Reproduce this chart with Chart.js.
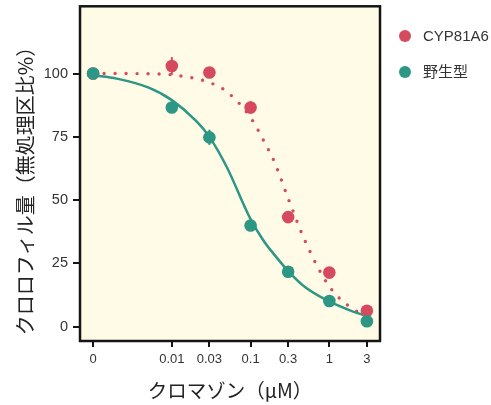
<!DOCTYPE html>
<html>
<head>
<meta charset="utf-8">
<script src="https://cdn.jsdelivr.net/npm/chart.js@4"></script>
<style>
  html, body { margin: 0; padding: 0; background: #ffffff; }
  #wrap { width: 491px; height: 405px; }
</style>
</head>
<body>
<div id="wrap"><canvas id="doseChart" width="491" height="405"></canvas></div>
<script>
// doses in uM; the untreated control ("0") sits at the 0.001 position on the log axis
const doses = [0.001, 0.01, 0.03, 0.1, 0.3, 1, 3];
const doseLabels = ["0", "0.01", "0.03", "0.1", "0.3", "1", "3"];
const yTicks = [0, 25, 50, 75, 100];

const mutantName = "CYP81A6";
const mutantValues = [100, 103, 100.4, 86.6, 43.3, 21.4, 6.3];
const mutantErr = [0.5, 3.5, 1.5, 2.5, 1, 1, 1];

const wildName = "野生型";
const wildValues = [100, 86.6, 74.8, 40, 21.7, 10.2, 2.2];
const wildErr = [0.5, 1.5, 3, 1, 1, 1, 0.5];

// fitted curves
const curveDoses = [0.001, 0.002, 0.005, 0.01, 0.02, 0.03, 0.05, 0.1, 0.15, 0.2, 0.3, 0.5, 1, 2, 3];
const mutantCurve = [100, 100, 99.9, 99.5, 98, 96.5, 92.8, 82.6, 72.9, 65.2, 50.7, 33.4, 15.9, 7, 4.6];
const wildCurve = [99.3, 98, 94.5, 89.5, 81.5, 75, 63, 42.5, 33.5, 28.5, 22, 15.5, 10, 6, 4.2];

const yTitle = "クロロフィル量（無処理区比%）";
const xTitle = "クロマゾン（μM）";

const red = "#d64a60";
const teal = "#2b9784";

const toPoints = (xs, ys) => xs.map((x, i) => ({ x: x, y: ys[i] }));

const plotFrame = {
  id: "plotFrame",
  beforeDraw(chart) {
    const { ctx, chartArea: a } = chart;
    ctx.save();
    ctx.fillStyle = "#fffbe6";
    ctx.fillRect(a.left, a.top, a.right - a.left, a.bottom - a.top);
    ctx.restore();
  },
  beforeDatasetsDraw(chart) {
    // error bars behind the points
    const { ctx } = chart;
    const xs = chart.scales.x, ys = chart.scales.y;
    ctx.save();
    ctx.lineWidth = 2;
    [[mutantValues, mutantErr, red], [wildValues, wildErr, teal]].forEach(([vals, errs, col]) => {
      ctx.strokeStyle = col;
      vals.forEach((v, i) => {
        const px = xs.getPixelForValue(doses[i]);
        ctx.beginPath();
        ctx.moveTo(px, ys.getPixelForValue(v - errs[i]));
        ctx.lineTo(px, ys.getPixelForValue(v + errs[i]));
        ctx.stroke();
      });
    });
    ctx.restore();
  },
  afterDraw(chart) {
    const { ctx, chartArea: a } = chart;
    ctx.save();
    ctx.strokeStyle = "#151515";
    ctx.lineWidth = 2.5;
    ctx.strokeRect(a.left, a.top, a.right - a.left, a.bottom - a.top);

    // y title, sits a little below the middle of the axis in the original
    ctx.save();
    ctx.translate(25, 186);
    ctx.rotate(-Math.PI / 2);
    ctx.textAlign = "center";
    ctx.textBaseline = "middle";
    ctx.fillStyle = "#222";
    ctx.font = "20px 'Noto Sans CJK JP', sans-serif";
    ctx.fillText(yTitle, 0, 0);
    ctx.restore();

    // legend
    const items = [[mutantName, red, 36], [wildName, teal, 72]];
    ctx.textBaseline = "middle";
    items.forEach(([name, col, y]) => {
      ctx.beginPath();
      ctx.fillStyle = col;
      ctx.arc(405, y, 6, 0, Math.PI * 2);
      ctx.fill();
      ctx.fillStyle = "#333";
      ctx.font = "15px 'Liberation Sans', 'Noto Sans CJK JP', sans-serif";
      ctx.fillText(name, 423, y + 1);
    });
    ctx.restore();
  },
};

new Chart(document.getElementById("doseChart"), {
  type: "scatter",
  data: {
    datasets: [
      {
        label: wildName,
        data: toPoints(doses, wildValues),
        backgroundColor: teal,
        borderColor: teal,
        pointRadius: 6.3,
        pointBorderWidth: 0,
        order: 0,
      },
      {
        label: mutantName,
        data: toPoints(doses, mutantValues),
        backgroundColor: red,
        borderColor: red,
        pointRadius: 6.3,
        pointBorderWidth: 0,
        order: 1,
      },
      {
        type: "line",
        label: "wild fit",
        data: toPoints(curveDoses, wildCurve),
        borderColor: teal,
        borderWidth: 2.5,
        pointRadius: 0,
        cubicInterpolationMode: "monotone",
        showLine: true,
        fill: false,
        order: 2,
      },
      {
        type: "line",
        label: "mutant fit",
        data: toPoints(curveDoses, mutantCurve),
        borderColor: red,
        borderWidth: 3.4,
        borderDash: [0, 11],
        borderCapStyle: "round",
        pointRadius: 0,
        cubicInterpolationMode: "monotone",
        showLine: true,
        fill: false,
        order: 3,
      },
    ],
  },
  options: {
    responsive: false,
    animation: false,
    devicePixelRatio: 1,
    layout: { padding: { top: 5, right: 111, left: 0, bottom: 0 } },
    plugins: {
      legend: { display: false },
      tooltip: { enabled: false },
    },
    scales: {
      x: {
        type: "logarithmic",
        min: 0.000682,
        max: 4.4,
        afterBuildTicks: (scale) => {
          scale.ticks = doses.map((d) => ({ value: d }));
        },
        afterFit: (scale) => {
          scale.height = 64;
          scale.paddingLeft = 0;
          scale.paddingRight = 0;
        },
        ticks: {
          callback: (value) => {
            const i = doses.indexOf(value);
            return i >= 0 ? doseLabels[i] : "";
          },
          autoSkip: false,
          maxRotation: 0,
          padding: 5,
          color: "#333",
          font: { family: "'Liberation Sans', Arial, sans-serif", size: 13 },
        },
        grid: {
          drawOnChartArea: false,
          drawTicks: true,
          tickLength: 6,
          tickWidth: 2,
          lineWidth: 2,
          tickColor: "#151515",
        },
        border: { display: false },
        title: {
          display: true,
          text: xTitle,
          color: "#222",
          padding: { top: 0, bottom: 3 },
          font: { family: "'Noto Sans CJK JP', sans-serif", size: 19.5 },
        },
      },
      y: {
        min: -5.62,
        max: 126.55,
        afterBuildTicks: (scale) => {
          scale.ticks = yTicks.map((v) => ({ value: v }));
        },
        afterFit: (scale) => {
          scale.width = 80;
          scale.paddingTop = 0;
          scale.paddingBottom = 0;
        },
        ticks: {
          padding: 5,
          color: "#333",
          font: { family: "'Liberation Sans', Arial, sans-serif", size: 14.5 },
        },
        grid: {
          drawOnChartArea: false,
          drawTicks: true,
          tickLength: 7,
          tickWidth: 2,
          lineWidth: 2,
          tickColor: "#151515",
        },
        border: { display: false },
      },
    },
  },
  plugins: [plotFrame],
});
</script>
</body>
</html>
